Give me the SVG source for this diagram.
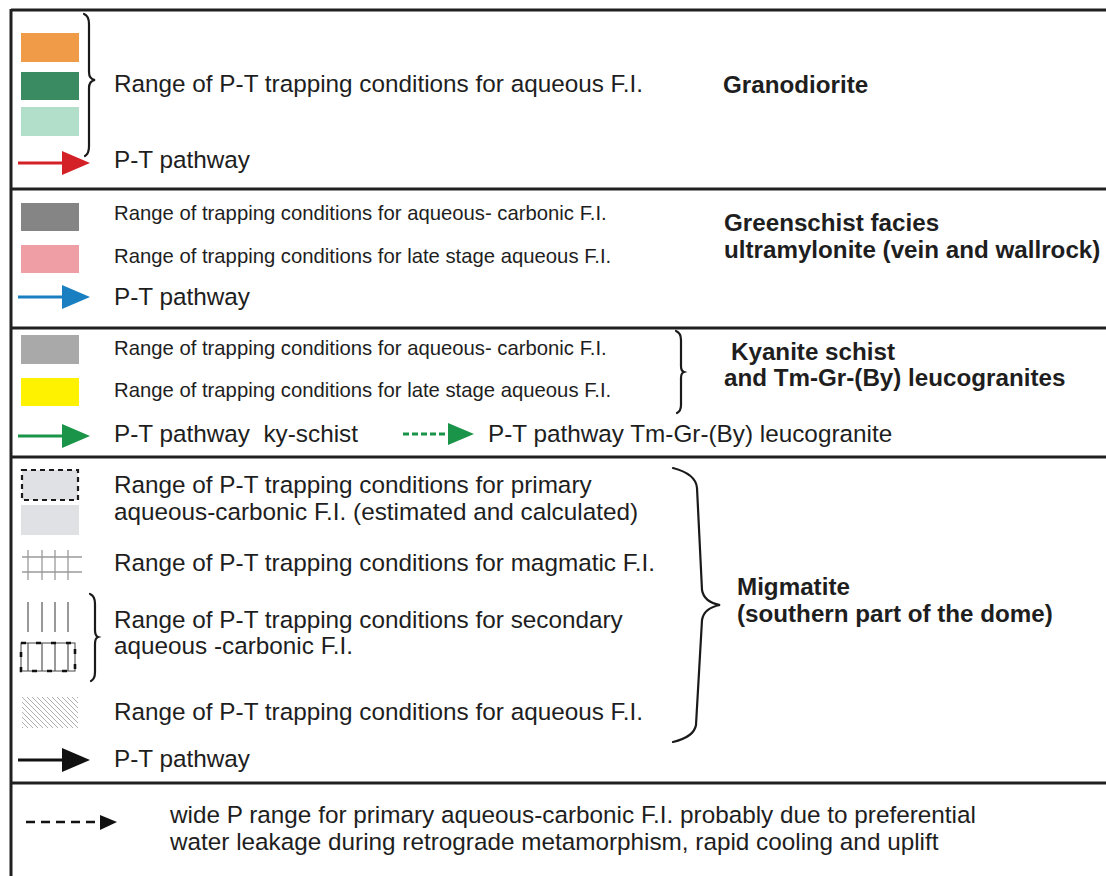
<svg xmlns="http://www.w3.org/2000/svg" width="1106" height="876" viewBox="0 0 1106 876">
<style>
.t{font-family:"Liberation Sans",Arial,sans-serif;font-size:24.3px;fill:#1e1e1e}
.s{font-family:"Liberation Sans",Arial,sans-serif;font-size:20.3px;fill:#1e1e1e}
.m{font-family:"Liberation Sans",Arial,sans-serif;font-size:24.3px;fill:#1e1e1e}
.b{font-family:"Liberation Sans",Arial,sans-serif;font-size:24.2px;font-weight:bold;fill:#1e1e1e}
.frame{stroke:#202020;stroke-width:3;fill:none}
.brace{stroke:#1a1a1a;stroke-width:2.2;fill:none;stroke-linecap:round}
</style>
<defs>
<pattern id="hatch" patternUnits="userSpaceOnUse" width="5" height="5">
<path d="M0,0 L5,5 M-1,4 L1,6 M4,-1 L6,1" stroke="#b0b0b0" stroke-width="1"/>
</pattern>
</defs>
<rect x="0" y="0" width="1106" height="876" fill="#ffffff"/>
<g id="frame">
<line class="frame" x1="11" y1="10" x2="1106" y2="10"/>
<line class="frame" x1="11" y1="9" x2="11" y2="876"/>
<line class="frame" x1="11" y1="189" x2="1106" y2="189"/>
<line class="frame" x1="11" y1="328" x2="1106" y2="328"/>
<line class="frame" x1="11" y1="457" x2="1106" y2="457"/>
<line class="frame" x1="11" y1="783" x2="1106" y2="783"/>
</g>
<g id="granodiorite">
<rect x="21" y="33" width="58" height="29" fill="#ef9b48"/>
<rect x="21" y="72" width="58" height="28" fill="#3b8b62"/>
<rect x="21" y="107" width="58" height="29" fill="#b2dfca"/>
<path class="brace" d="M84,14 Q89,16 89,24 L89,72 Q89,79 95,80 Q89,81 89,88 L89,146 Q89,154 85,156"/>
<text class="t" x="114" y="92">Range of P-T trapping conditions for aqueous F.I.</text>
<text class="t" x="114" y="168">P-T pathway</text>
<text class="b" x="723" y="93">Granodiorite</text>
</g>
<g id="greenschist">
<rect x="21" y="203" width="58" height="28" fill="#858585"/>
<rect x="21" y="245" width="58" height="28" fill="#f09ea6"/>
<text class="s" x="114" y="220">Range of trapping conditions for aqueous- carbonic F.I.</text>
<text class="s" x="114" y="263">Range of trapping conditions for late stage aqueous F.I.</text>
<text class="t" x="114" y="305">P-T pathway</text>
<text class="b" x="724" y="231">Greenschist facies</text>
<text class="b" x="724" y="258">ultramylonite (vein and wallrock)</text>
</g>
<g id="kyanite">
<rect x="21" y="335" width="58" height="29" fill="#a9a9a9"/>
<rect x="21" y="378" width="58" height="28" fill="#fff200"/>
<path class="brace" d="M676,331 Q681,333 681,340 L681,366 Q681,371 684,372 Q681,373 681,378 L681,405 Q681,411 677,413"/>
<text class="s" x="114" y="355">Range of trapping conditions for aqueous- carbonic F.I.</text>
<text class="s" x="114" y="397">Range of trapping conditions for late stage aqueous F.I.</text>
<text class="t" x="114" y="442" xml:space="preserve">P-T pathway  ky-schist</text>
<text class="t" x="488" y="442">P-T pathway Tm-Gr-(By) leucogranite</text>
<text class="b" x="731" y="360">Kyanite schist</text>
<text class="b" x="724" y="386">and Tm-Gr-(By) leucogranites</text>
</g>
<g id="migmatite">
<rect x="22" y="470" width="56" height="30" fill="#dfe1e4" stroke="#1a1a1a" stroke-width="2.2" stroke-dasharray="5 4"/>
<rect x="21" y="505" width="58" height="30" fill="#dfe1e4"/>
<g stroke="#9a9a9a" stroke-width="1.3">
<line x1="28" y1="550" x2="28" y2="580"/>
<line x1="42" y1="550" x2="42" y2="580"/>
<line x1="55" y1="550" x2="55" y2="580"/>
<line x1="68" y1="550" x2="68" y2="580"/>
<line x1="22" y1="557" x2="82" y2="557"/>
<line x1="22" y1="572" x2="82" y2="572"/>
</g>
<g stroke="#555" stroke-width="1.2">
<line x1="28" y1="602" x2="28" y2="632"/>
<line x1="42" y1="602" x2="42" y2="632"/>
<line x1="55" y1="602" x2="55" y2="632"/>
<line x1="68" y1="602" x2="68" y2="632"/>
<line x1="28" y1="643" x2="28" y2="671"/>
<line x1="42" y1="643" x2="42" y2="671"/>
<line x1="55" y1="643" x2="55" y2="671"/>
<line x1="68" y1="643" x2="68" y2="671"/>
</g>
<rect x="21" y="643" width="54" height="28" fill="none" stroke="#444" stroke-width="1"/>
<rect x="21" y="643" width="54" height="28" fill="none" stroke="#111" stroke-width="2.6" stroke-dasharray="5 10"/>
<path class="brace" d="M90,594 Q95,596 95,604 L95,630 Q95,636 98,637 Q95,638 95,644 L95,672 Q95,679 91,681"/>
<rect x="22" y="697" width="56" height="31" fill="url(#hatch)"/>
<path class="brace" d="M673,468 Q696,474 697,488 L702,590 Q704,602 720,605 Q704,608 702,620 L696,725 Q694,737 673,742"/>
<text class="t" x="114" y="493">Range of P-T trapping conditions for primary</text>
<text class="t" x="114" y="520">aqueous-carbonic F.I. (estimated and calculated)</text>
<text class="t" x="114" y="571">Range of P-T trapping conditions for magmatic F.I.</text>
<text class="t" x="114" y="628">Range of P-T trapping conditions for secondary</text>
<text class="t" x="114" y="654">aqueous -carbonic F.I.</text>
<text class="t" x="114" y="720">Range of P-T trapping conditions for aqueous F.I.</text>
<text class="t" x="114" y="767">P-T pathway</text>
<text class="b" x="737" y="595">Migmatite</text>
<text class="b" x="737" y="622">(southern part of the dome)</text>
</g>
<g id="note">
<text class="m" x="170" y="823">wide P range for primary aqueous-carbonic F.I. probably due to preferential</text>
<text class="m" x="170" y="850">water leakage during retrograde metamorphism, rapid cooling and uplift</text>
</g>
<g id="connectors">
<line x1="18" y1="163" x2="66" y2="163" stroke="#d42027" stroke-width="3.2"/>
<polygon points="62,151 90,163 62,175" fill="#d42027"/>
<line x1="18" y1="297" x2="66" y2="297" stroke="#1a7fc1" stroke-width="3.2"/>
<polygon points="62,285 90,297 62,309" fill="#1a7fc1"/>
<line x1="18" y1="436" x2="66" y2="436" stroke="#1a9448" stroke-width="3.2"/>
<polygon points="62,424 90,436 62,448" fill="#1a9448"/>
<line x1="403" y1="434" x2="450" y2="434" stroke="#1a9448" stroke-width="3" stroke-dasharray="6 3"/>
<polygon points="448,423 474,434 448,445" fill="#1a9448"/>
<line x1="18" y1="760" x2="66" y2="760" stroke="#111" stroke-width="3.2"/>
<polygon points="62,748 90,760 62,772" fill="#111"/>
<line x1="26" y1="822" x2="98" y2="822" stroke="#111" stroke-width="2.5" stroke-dasharray="9 6"/>
<polygon points="100,815 117,822 100,830" fill="#111"/>
</g>
</svg>
